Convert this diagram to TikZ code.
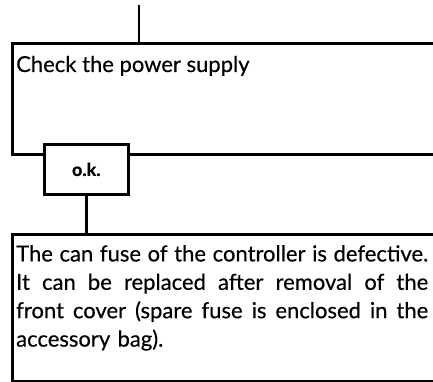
\documentclass[tikz,border=0pt]{standalone}
\usepackage{fontspec}
\setmainfont{Lato}[FakeBold=0.4]
\newcommand{\fitline}[1]{\leavevmode\hbox to 412pt{\spaceskip=0.25em plus 1fil\relax #1}}
\begin{document}
\begin{tikzpicture}[x=1pt,y=-1pt,
	box/.style={draw, line width=2.6pt, rectangle, inner sep=0pt, anchor=north west},
	txt/.style={font=\fontsize{22}{28.4}\selectfont, inner sep=0pt}]
	\useasboundingbox (0,0) rectangle (433,382);
	\clip (0,0) rectangle (433,382);
	% boxes
	\node [box, minimum width=440pt, minimum height=111pt] (check) at (11,42) {};
	\node [box, fill=white, minimum width=84pt, minimum height=50pt] (ok) at (43,143) {};
	\node [font=\bfseries\fontsize{18}{20}\selectfont, inner sep=0pt] (oktxt) at (ok.center) {o.k.};
	\node [box, minimum width=440pt, minimum height=147pt] (fuse) at (11,233) {};
	% texts
	\node [txt, anchor=base west] (checktxt) at (16,72) {Check the power supply};
	\node [txt, anchor=north west, text width=412pt] (fusetxt) at (16,245) {%
		\fitline{The can fuse of the controller is defective.}\\
		\fitline{It can be replaced after removal of the}\\
		\fitline{front cover (spare fuse is enclosed in the}\\
		accessory bag).};
	% connectors
	\coordinate (in) at (139,5);
	\draw [line width=2.6pt] (in) -- (in |- check.north);
	\draw [line width=2.6pt] (ok.south) -- (ok.south |- fuse.north);
\end{tikzpicture}
\end{document}
